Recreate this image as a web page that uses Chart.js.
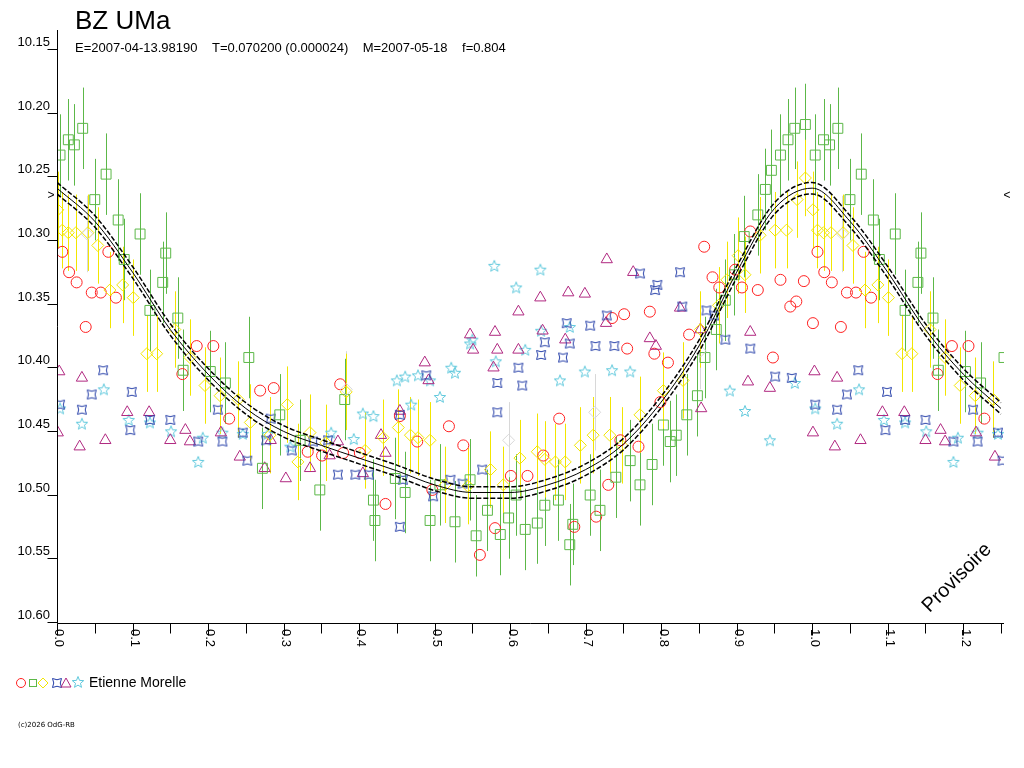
<!DOCTYPE html>
<html><head><meta charset="utf-8">
<script src="https://cdn.jsdelivr.net/npm/chart.js@4"></script>
<style>
html,body{margin:0;padding:0;background:#fff;}
#wrap{position:relative;width:1024px;height:768px;}
canvas{position:absolute;left:0;top:0;}
</style></head><body>
<div id="wrap"><canvas id="c" width="1024" height="768"></canvas></div>
<script>
// ---- data (phase, magnitude) ----
const redPhase=[0.007,0.016,0.026,0.046,0.038,0.058,0.068,0.078,0.166,0.185,0.207,0.228,0.269,0.287,0.332,0.351,0.375,0.379,0.401,0.435,0.454,0.477,0.497,0.519,0.538,0.560,0.580,0.601,0.623,0.644,0.665,0.685,0.714,0.730,0.735,0.746,0.751,0.755,0.770,0.785,0.791,0.799,0.809,0.837,0.857,0.868,0.877,0.898,0.907,0.918,0.928,0.948,0.958,0.971,0.979,0.989,1.001];
const redMag=[10.314,10.330,10.338,10.346,10.373,10.346,10.314,10.350,10.410,10.388,10.388,10.445,10.423,10.421,10.471,10.474,10.418,10.472,10.472,10.512,10.443,10.463,10.501,10.451,10.466,10.552,10.531,10.490,10.490,10.474,10.445,10.530,10.522,10.497,10.366,10.462,10.363,10.390,10.467,10.361,10.394,10.432,10.401,10.379,10.310,10.334,10.342,10.328,10.342,10.298,10.344,10.397,10.336,10.357,10.353,10.337,10.370];
const greenPhase=[0.004,0.015,0.023,0.034,0.050,0.065,0.081,0.089,0.110,0.123,0.140,0.144,0.160,0.167,0.203,0.223,0.254,0.272,0.295,0.322,0.348,0.381,0.419,0.421,0.448,0.461,0.494,0.507,0.527,0.547,0.555,0.570,0.587,0.598,0.608,0.620,0.636,0.646,0.664,0.679,0.683,0.706,0.719,0.740,0.759,0.772,0.788,0.803,0.812,0.820,0.834,0.848,0.858,0.873,0.885,0.897,0.910,0.928,0.938,0.946,0.958,0.968,0.977,0.991];
const greenMag=[10.238,10.226,10.230,10.217,10.273,10.253,10.289,10.320,10.300,10.360,10.338,10.315,10.366,10.407,10.408,10.417,10.397,10.484,10.442,10.462,10.501,10.430,10.509,10.525,10.492,10.503,10.525,10.497,10.526,10.493,10.537,10.517,10.536,10.523,10.505,10.532,10.527,10.513,10.509,10.544,10.528,10.505,10.517,10.491,10.478,10.497,10.481,10.450,10.463,10.458,10.442,10.427,10.397,10.375,10.352,10.332,10.302,10.285,10.265,10.250,10.238,10.226,10.217,10.214];
const yellowPhase=[0.001,0.007,0.015,0.025,0.041,0.054,0.070,0.087,0.101,0.119,0.132,0.156,0.176,0.196,0.216,0.240,0.256,0.282,0.305,0.319,0.335,0.356,0.383,0.408,0.432,0.452,0.468,0.478,0.494,0.514,0.544,0.574,0.591,0.613,0.636,0.646,0.660,0.673,0.693,0.710,0.732,0.748,0.772,0.803,0.829,0.852,0.876,0.887,0.902,0.911,0.931,0.951,0.966,0.980,0.991];
const yellowMag=[10.281,10.297,10.299,10.299,10.299,10.309,10.344,10.340,10.350,10.394,10.394,10.375,10.397,10.419,10.427,10.430,10.448,10.458,10.434,10.479,10.456,10.464,10.424,10.470,10.460,10.452,10.458,10.460,10.462,10.497,10.498,10.485,10.497,10.476,10.471,10.477,10.479,10.479,10.466,10.458,10.458,10.466,10.442,10.423,10.415,10.375,10.356,10.336,10.317,10.332,10.301,10.297,10.297,10.273,10.256];
const bluePhase=[0.004,0.033,0.046,0.061,0.099,0.097,0.123,0.150,0.187,0.213,0.219,0.246,0.252,0.277,0.283,0.311,0.339,0.359,0.372,0.395,0.413,0.454,0.458,0.454,0.489,0.498,0.521,0.537,0.563,0.583,0.583,0.611,0.616,0.641,0.646,0.675,0.670,0.679,0.706,0.713,0.728,0.738,0.772,0.792,0.795,0.825,0.828,0.860,0.870,0.885,0.918,0.951,0.973];
const blueMag=[10.434,10.438,10.426,10.407,10.424,10.454,10.446,10.446,10.463,10.438,10.463,10.456,10.478,10.462,10.445,10.470,10.463,10.462,10.489,10.489,10.489,10.530,10.493,10.442,10.411,10.506,10.493,10.496,10.485,10.440,10.417,10.405,10.419,10.395,10.385,10.370,10.397,10.386,10.372,10.388,10.364,10.388,10.331,10.344,10.340,10.330,10.357,10.360,10.364,10.383,10.390,10.412,10.413];
const purplePhase=[0.003,0.001,0.033,0.030,0.064,0.093,0.122,0.150,0.170,0.176,0.217,0.242,0.275,0.283,0.303,0.335,0.361,0.372,0.405,0.435,0.429,0.454,0.487,0.492,0.551,0.547,0.580,0.578,0.583,0.611,0.611,0.640,0.643,0.673,0.677,0.699,0.728,0.727,0.763,0.785,0.793,0.825,0.852,0.853,0.918,0.915,0.944];
const purpleMag=[10.408,10.456,10.413,10.467,10.462,10.440,10.440,10.462,10.454,10.463,10.456,10.475,10.484,10.462,10.492,10.484,10.474,10.463,10.488,10.472,10.458,10.439,10.401,10.415,10.391,10.379,10.377,10.405,10.391,10.361,10.391,10.350,10.376,10.383,10.346,10.347,10.320,10.370,10.330,10.382,10.388,10.358,10.375,10.437,10.377,10.416,10.421];
const cyanPhase=[0.004,0.033,0.062,0.095,0.123,0.151,0.187,0.193,0.219,0.246,0.279,0.309,0.363,0.393,0.405,0.419,0.450,0.461,0.469,0.478,0.494,0.522,0.527,0.507,0.547,0.550,0.579,0.581,0.608,0.620,0.640,0.641,0.666,0.679,0.699,0.735,0.759,0.891,0.911,0.944,0.977];
const cyanMag=[10.437,10.449,10.422,10.446,10.448,10.455,10.479,10.460,10.456,10.457,10.457,10.467,10.456,10.461,10.441,10.443,10.415,10.412,10.434,10.411,10.415,10.405,10.409,10.428,10.386,10.383,10.325,10.400,10.342,10.391,10.328,10.376,10.415,10.373,10.408,10.407,10.408,10.423,10.439,10.462,10.417];
const grayPhase=[0.040,0.383,0.598,0.712,0.852];
const grayMag=[10.300,10.422,10.462,10.440,10.392];
const fitPhase=[0,0.05,0.1,0.15,0.2,0.25,0.3,0.35,0.4,0.45,0.5,0.55,0.6,0.65,0.7,0.75,0.8,0.85,0.9,0.95,1.0,1.05,1.1,1.15,1.2,1.25];
const fitMag=[10.264,10.290,10.330,10.375,10.410,10.437,10.455,10.466,10.476,10.486,10.497,10.503,10.503,10.497,10.485,10.465,10.432,10.388,10.330,10.280,10.264,10.290,10.330,10.375,10.410,10.437];
const fitBand=0.0045;
const greenErr=0.032, yellowErr=0.03, grayErr=0.03;
const yTicks=[10.15,10.20,10.25,10.30,10.35,10.40,10.45,10.50,10.55,10.60];
const xTicks=[0.0,0.1,0.2,0.3,0.4,0.5,0.6,0.7,0.8,0.9,1.0,1.1,1.2];
const observer="Etienne Morelle";

const XMAX=1.254;
function pts(ph,mg){const o=[];ph.forEach((p,i)=>{o.push({x:p,y:mg[i]});if(p<=XMAX-1)o.push({x:p+1,y:mg[i]});});return o;}
function mk(draw){const c=document.createElement('canvas');c.width=14;c.height=14;const g=c.getContext('2d');g.lineWidth=1;draw(g);return c;}
const blueImg=mk(g=>{g.strokeStyle='#243ea8';g.beginPath();g.moveTo(2.5,2.5);g.quadraticCurveTo(7,5,11.5,2.5);g.quadraticCurveTo(9,7,11.5,11.5);g.quadraticCurveTo(7,9,2.5,11.5);g.quadraticCurveTo(5,7,2.5,2.5);g.stroke();});
const cyanImg=mk(g=>{g.strokeStyle='#5ec8dc';g.beginPath();for(let i=0;i<10;i++){const r=i%2?2.6:6;const a=-Math.PI/2+i*Math.PI/5;const x=7+r*Math.cos(a),y=7.5+r*Math.sin(a);i?g.lineTo(x,y):g.moveTo(x,y);}g.closePath();g.stroke();});

const ds=(label,data,style,color,r,extra)=>Object.assign({type:'scatter',label,data,pointStyle:style,borderColor:color,backgroundColor:'rgba(0,0,0,0)',pointRadius:r,pointBorderWidth:1,pointHoverRadius:r},extra||{});
const line=(data,dash,w)=>({type:'line',data,borderColor:'#000',borderWidth:w,borderDash:dash,pointRadius:0,fill:false,cubicInterpolationMode:'monotone'});
const fitMid=fitPhase.map((p,i)=>({x:p,y:fitMag[i]}));
const fitHi=fitPhase.map((p,i)=>({x:p,y:fitMag[i]-fitBand}));
const fitLo=fitPhase.map((p,i)=>({x:p,y:fitMag[i]+fitBand}));

const errPlugin={id:'err',beforeDatasetsDraw(ch){const g=ch.ctx,xs=ch.scales.x,ys=ch.scales.y;g.save();g.beginPath();g.rect(ch.chartArea.left,ch.chartArea.top-30,ch.chartArea.right-ch.chartArea.left,ch.chartArea.bottom-ch.chartArea.top+60);g.clip();g.lineWidth=1;
[[grayPhase,grayMag,grayErr,'#d8d8d8'],[greenPhase,greenMag,greenErr,'#5cb848'],[yellowPhase,yellowMag,yellowErr,'#f2e600']].forEach(([ph,mg,e,c])=>{g.strokeStyle=c;pts(ph,mg).forEach(p=>{const x=Math.round(xs.getPixelForValue(p.x))+0.5;g.beginPath();g.moveTo(x,ys.getPixelForValue(p.y-e));g.lineTo(x,ys.getPixelForValue(p.y+e));g.stroke();});});g.restore();}};

const axesPlugin={id:'axes',afterDraw(ch){const g=ch.ctx,xs=ch.scales.x,ys=ch.scales.y;g.save();g.strokeStyle='#000';g.fillStyle='#000';g.lineWidth=1;
const ax=57.5,ay=623.5;g.beginPath();g.moveTo(ax,30);g.lineTo(ax,ay);g.lineTo(1004,ay);g.stroke();
g.font='13px "Liberation Sans", Arial, sans-serif';g.textAlign='right';g.textBaseline='middle';
yTicks.forEach(v=>{const y=Math.round(ys.getPixelForValue(v))+6.5;g.beginPath();g.moveTo(ax-10,y);g.lineTo(ax,y);g.stroke();g.fillText(v.toFixed(2),50,y-7);});
for(let v=0;v<=XMAX+1e-9;v+=0.05){const x=Math.round(xs.getPixelForValue(v))+0.5;const major=Math.abs(v*10-Math.round(v*10))<1e-6;g.beginPath();g.moveTo(x,ay);g.lineTo(x,ay+(major?12:10));g.stroke();}
xTicks.forEach(v=>{const x=xs.getPixelForValue(v);g.save();g.translate(x+2,629);g.rotate(Math.PI/2);g.textAlign='left';g.textBaseline='middle';g.fillText(v.toFixed(1),0,0);g.restore();});
g.font='12px "Liberation Sans", Arial, sans-serif';g.textAlign='center';const yy=ys.getPixelForValue(10.27);g.fillText('>',51,yy);g.fillText('<',1007,yy);
g.font='26px "Liberation Sans", Arial, sans-serif';g.textAlign='left';g.textBaseline='alphabetic';g.fillText('BZ UMa',75,29);
g.font='13px "Liberation Sans", Arial, sans-serif';g.textBaseline='middle';g.fillText('E=2007-04-13.98190    T=0.070200 (0.000024)    M=2007-05-18    f=0.804',75,48);
g.save();g.translate(957,578);g.rotate(-Math.PI/4);g.font='20px "Liberation Sans", Arial, sans-serif';g.textAlign='center';g.fillText('Provisoire',0,0);g.restore();
// legend
const ly=683;g.lineWidth=1;
g.strokeStyle='#ff2020';g.beginPath();g.arc(21,ly,4.5,0,2*Math.PI);g.stroke();
g.strokeStyle='#5cb848';g.strokeRect(29.5,ly-3.5,7,7);
g.strokeStyle='#f2e600';g.beginPath();g.moveTo(43,ly-5);g.lineTo(48,ly);g.lineTo(43,ly+5);g.lineTo(38,ly);g.closePath();g.stroke();
g.drawImage(blueImg,50,ly-7);
g.strokeStyle='#b02880';g.beginPath();g.moveTo(66,ly-5);g.lineTo(71,ly+4);g.lineTo(61,ly+4);g.closePath();g.stroke();
g.drawImage(cyanImg,71,ly-8);
g.fillStyle='#000';g.font='14px "Liberation Sans", Arial, sans-serif';g.textAlign='left';g.fillText(observer,89,ly);
g.font='7px "DejaVu Sans", sans-serif';g.fillText('(c)2026 OdG-RB',18,725);
g.restore();}};

new Chart(document.getElementById('c'),{
data:{datasets:[
 line(fitHi,[5,2],1.5), line(fitMid,[],1), line(fitLo,[5,2],1.5),
 ds('gray',pts(grayPhase,grayMag),'rectRot','#d8d8d8',6),
 ds('green',pts(greenPhase,greenMag),'rect','#5cb848',7),
 ds('yellow',pts(yellowPhase,yellowMag),'rectRot','#f2e600',6),
 ds('blue',pts(bluePhase,blueMag),blueImg,'#243ea8',5),
 ds('purple',pts(purplePhase,purpleMag),'triangle','#b02880',6.5),
 ds('cyan',pts(cyanPhase,cyanMag),cyanImg,'#5ec8dc',5),
 ds('red',pts(redPhase,redMag),'circle','#ff2020',5.5)
]},
options:{responsive:false,animation:false,devicePixelRatio:1,
 layout:{padding:{left:57,top:43,right:20,bottom:152}},
 plugins:{legend:{display:false},tooltip:{enabled:false}},
 scales:{x:{type:'linear',min:0,max:XMAX,display:false},y:{type:'linear',min:10.15,max:10.60,reverse:true,display:false}}},
plugins:[errPlugin,axesPlugin]});
</script></body></html>
